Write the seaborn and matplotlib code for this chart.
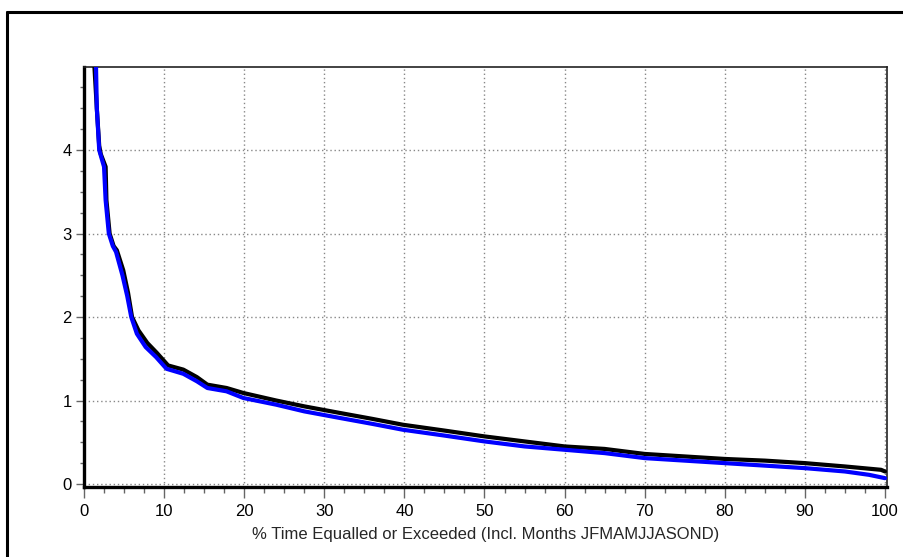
import numpy as np
import pandas as pd
import matplotlib
matplotlib.use("Agg")
import matplotlib.pyplot as plt
from matplotlib.lines import Line2D
from matplotlib.ticker import MultipleLocator
import seaborn as sns

# ---- data (flow duration curves) ----
black_pct = [1.0, 1.3, 1.6, 1.9, 2.1, 2.7, 2.8, 3.2, 3.7, 4.1, 4.9, 5.5, 6.0, 6.8, 7.9,
             9.1, 10.5, 12.4, 14.1, 15.4, 17.8, 19.9, 24, 27.5, 32, 36, 39.8, 45, 50,
             55, 60, 65, 70, 75, 80, 85, 90, 95, 99.5, 100]
black_val = [6.0, 5.0, 4.5, 4.05, 3.95, 3.8, 3.4, 3.0, 2.85, 2.8, 2.56, 2.29, 2.0, 1.84, 1.69,
             1.57, 1.42, 1.37, 1.28, 1.19, 1.15, 1.09, 1.0, 0.93, 0.85, 0.78, 0.71, 0.64, 0.57,
             0.51, 0.45, 0.42, 0.36, 0.33, 0.30, 0.28, 0.25, 0.21, 0.17, 0.15]

blue_pct = [1.4, 1.5, 1.6, 1.9, 2.5, 2.7, 3.1, 3.6, 4.0, 4.8, 5.4, 5.9, 6.6, 7.7, 9.0,
            10.3, 12.4, 14.1, 15.4, 17.8, 19.9, 24, 27.5, 32, 36, 39.8, 45, 50, 55, 60,
            65, 70, 75, 80, 85, 90, 95, 98, 100]
blue_val = [6.0, 5.0, 4.5, 4.0, 3.8, 3.4, 3.0, 2.85, 2.78, 2.5, 2.25, 2.0, 1.8, 1.64, 1.52,
            1.38, 1.32, 1.23, 1.15, 1.11, 1.03, 0.95, 0.87, 0.79, 0.72, 0.65, 0.58, 0.51,
            0.45, 0.41, 0.37, 0.31, 0.28, 0.25, 0.22, 0.19, 0.15, 0.11, 0.07]

x_ticks = [0, 10, 20, 30, 40, 50, 60, 70, 80, 90, 100]
y_ticks = [0, 1, 2, 3, 4]
x_label = "% Time Equalled or Exceeded (Incl. Months JFMAMJJASOND)"

sns.set_style("white")
plt.rcParams["font.family"] = ["Liberation Sans", "DejaVu Sans"]

fig = plt.figure(figsize=(9.04, 5.57), dpi=100)
ax = fig.add_axes([84 / 904, 1 - 487 / 557, (887 - 84) / 904, (487 - 67) / 557])

df_black = pd.DataFrame({"pct": black_pct, "val": black_val})
df_blue = pd.DataFrame({"pct": blue_pct, "val": blue_val})
sns.lineplot(data=df_black, x="pct", y="val", ax=ax, color="black", lw=3.0,
             estimator=None, sort=False, zorder=3)
sns.lineplot(data=df_blue, x="pct", y="val", ax=ax, color="#0000ff", lw=3.0,
             estimator=None, sort=False, zorder=4)

ax.set_xlim(0, 100.25)
ax.set_ylim(-0.036, 4.995)
ax.set_xticks(x_ticks)
ax.set_yticks(y_ticks)
ax.xaxis.set_minor_locator(MultipleLocator(2.5))
ax.yaxis.set_minor_locator(MultipleLocator(0.25))
ax.tick_params(axis="both", which="major", direction="out", width=1,
               color="#666666", labelsize=12, labelcolor="black")
ax.tick_params(axis="x", which="major", length=8, pad=4)
ax.tick_params(axis="y", which="major", length=6, pad=3)
ax.tick_params(axis="x", which="minor", direction="out", length=4, width=1,
               color="#666666")
ax.tick_params(axis="y", which="minor", direction="out", length=3, width=1,
               color="#666666")
ax.tick_params(axis="x", bottom=True, which="both")
ax.tick_params(axis="y", left=True, which="both")

ax.grid(True, which="major", linestyle=(0, (1, 2)), color="#888888", lw=1.0)
ax.set_axisbelow(True)

ax.set_xlabel(x_label, fontsize=12, labelpad=6)
ax.set_ylabel("")

for side in ["left", "bottom"]:
    ax.spines[side].set_linewidth(2.4)
    ax.spines[side].set_color("black")
for side in ["top", "right"]:
    ax.spines[side].set_linewidth(1.2)
    ax.spines[side].set_color("#222222")
    ax.spines[side].set_visible(True)

# outer frame (left and top edges visible)
bx = 7 / 904
by = 1 - 12 / 557
fig.add_artist(Line2D([bx, bx], [-0.01, by], transform=fig.transFigure, color="black", lw=2.2))
fig.add_artist(Line2D([bx, 1.01], [by, by], transform=fig.transFigure, color="black", lw=2.2))

fig.savefig("out.png", dpi=100, facecolor="white")
